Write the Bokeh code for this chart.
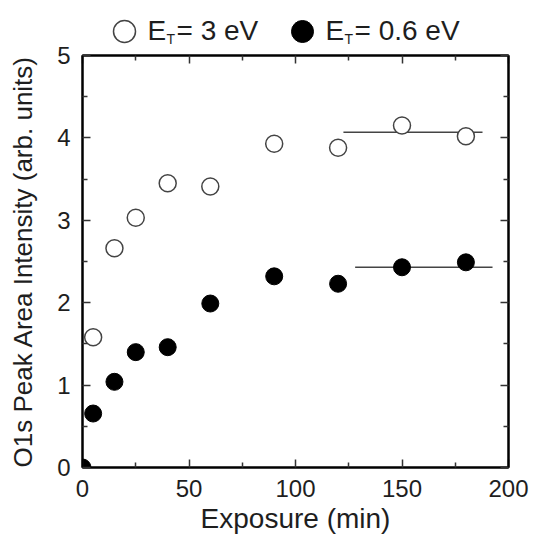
from bokeh.plotting import figure
from bokeh.models import LinearAxis, FixedTicker, Range1d
from bokeh.layouts import column
from bokeh.embed import file_html
from bokeh.resources import INLINE
from bokeh.core.properties import value

# ---- data ----
et3_x = [5, 15, 25, 40, 60, 90, 120, 150, 180]
et3_y = [1.58, 2.66, 3.03, 3.45, 3.41, 3.93, 3.88, 4.15, 4.02]
et06_x = [0, 5, 15, 25, 40, 60, 90, 120, 150, 180]
et06_y = [0.0, 0.655, 1.04, 1.40, 1.46, 1.99, 2.32, 2.23, 2.43, 2.49]
sat3_x = [122.5, 187.8]
sat3_y = [4.07, 4.07]
sat06_x = [128.0, 192.5]
sat06_y = [2.43, 2.43]
x_ticks = [0, 50, 100, 150, 200]
x_minor = [25, 75, 125, 175]
y_ticks = [0, 1, 2, 3, 4, 5]
y_minor = [0.5, 1.5, 2.5, 3.5, 4.5]
legend_main = ["E", "E"]
legend_sub = ["T", "T"]
legend_rest = ["= 3 eV", "= 0.6 eV"]

FONT = "Liberation Sans"
DARK = "#1e1e1e"

# ---- legend strip (its x/y ranges are in page pixels) ----
lg = figure(frame_width=426, frame_height=46, output_backend="svg",
            toolbar_location=None, x_range=Range1d(82, 508), y_range=Range1d(46, 0),
            x_axis_location=None, y_axis_location=None,
            min_border_left=82, min_border_right=29, min_border_top=0,
            min_border_bottom=0)
lg.outline_line_color = None
lg.grid.visible = False
lg.scatter([124], [31], size=22, fill_color="white", line_color="#444444", line_width=1.5)
lg.scatter([302], [31], size=22, fill_color="black", line_color="black")
lg.text([147, 325], [30, 30], text=legend_main, text_font=value(FONT),
        text_font_size="28px", text_baseline="middle", text_color=DARK)
lg.text([166, 344], [38.5, 38.5], text=legend_sub, text_font=value(FONT),
        text_font_size="14px", text_baseline="middle", text_color=DARK)
lg.text([176, 354], [30, 30], text=legend_rest, text_font=value(FONT),
        text_font_size="28px", text_baseline="middle", text_color=DARK)

# ---- main plot ----
p = figure(frame_width=426, frame_height=412, output_backend="svg",
           toolbar_location=None, x_range=Range1d(0, 200), y_range=Range1d(0, 5),
           x_axis_location=None, y_axis_location=None,
           min_border_left=82, min_border_right=29, min_border_top=9,
           min_border_bottom=72)
p.grid.visible = False
p.outline_line_color = "black"
p.outline_line_width = 2

bottom = LinearAxis(axis_label="Exposure (min)")
left = LinearAxis(axis_label="O1s Peak Area Intensity (arb. units)")
top = LinearAxis()
right = LinearAxis()
p.add_layout(bottom, "below")
p.add_layout(left, "left")
p.add_layout(top, "above")
p.add_layout(right, "right")

for ax in [bottom, top]:
    ax.ticker = FixedTicker(ticks=x_ticks, minor_ticks=x_minor)
for ax in [left, right]:
    ax.ticker = FixedTicker(ticks=y_ticks, minor_ticks=y_minor)

for ax in [bottom, left, top, right]:
    ax.axis_line_width = 2
    ax.axis_line_color = "black"
    ax.major_tick_in = 8
    ax.major_tick_out = 0
    ax.minor_tick_in = 5
    ax.minor_tick_out = 0
    ax.major_tick_line_width = 1.5
    ax.minor_tick_line_width = 1.5
    ax.major_tick_line_color = "#333333"
    ax.minor_tick_line_color = "#333333"
    ax.major_label_text_font = FONT
    ax.major_label_text_font_size = "24px"
    ax.major_label_text_color = DARK
    ax.axis_label_text_font = FONT
    ax.axis_label_text_font_size = "28px"
    ax.axis_label_text_font_style = "normal"
    ax.axis_label_text_color = DARK

for ax in [top, right]:
    ax.major_label_text_font_size = "0px"
    ax.major_label_standoff = 0

bottom.major_label_standoff = 12
bottom.axis_label_standoff = 3
left.major_label_standoff = 12
left.axis_label_standoff = 16
left.axis_label_text_font_size = "26px"

p.line(sat3_x, sat3_y, line_color="#444444", line_width=1.5)
p.line(sat06_x, sat06_y, line_color="#444444", line_width=1.5)
p.scatter(et3_x, et3_y, size=17, fill_color="white", line_color="#444444", line_width=1.5)
p.scatter(et06_x, et06_y, size=17, fill_color="black", line_color="black")

layout = column(lg, p, spacing=0)
open("out.html", "w").write(file_html(layout, INLINE))
